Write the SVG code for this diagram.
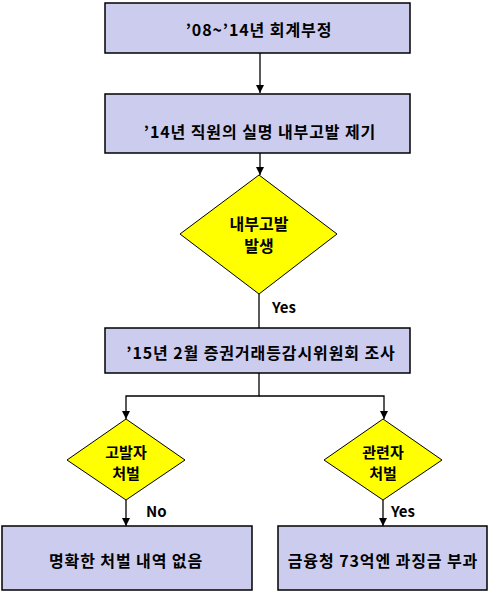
<svg xmlns="http://www.w3.org/2000/svg" width="491" height="591" viewBox="0 0 491 591">
<defs>
<style>
.box{fill:#CCCCEE;stroke:#000;stroke-width:1.5}
.dia{fill:#FFFF00;stroke:#000;stroke-width:1}
.t{font-family:"Noto Sans CJK KR","Malgun Gothic",sans-serif;font-weight:bold;font-size:16px;letter-spacing:0.9px;fill:#000;text-anchor:middle;dominant-baseline:central}
.d{font-family:"Noto Sans CJK KR","Malgun Gothic",sans-serif;font-weight:bold;font-size:16px;fill:#000;text-anchor:middle;dominant-baseline:central}
.s{font-family:"Noto Sans CJK KR","Malgun Gothic",sans-serif;font-weight:bold;font-size:15px;fill:#000;text-anchor:middle;dominant-baseline:central}
.lbl{font-family:"Noto Sans CJK KR",sans-serif;font-weight:bold;font-size:15px;fill:#000;dominant-baseline:central}
.ln{fill:none;stroke:#000;stroke-width:1.3}
</style>
<marker id="ah" viewBox="0 0 10 10" refX="10" refY="5" markerWidth="8" markerHeight="8" markerUnits="userSpaceOnUse" orient="auto">
<path d="M0,0 L10,5 L0,10 z" fill="#000"/>
</marker>
</defs>
<rect width="491" height="591" fill="#fff"/>
<g id="connectors">
<line class="ln" x1="260" y1="53" x2="260" y2="93" marker-end="url(#ah)"/>
<line class="ln" x1="260" y1="153" x2="260" y2="175" marker-end="url(#ah)"/>
<line class="ln" x1="259" y1="294" x2="259" y2="328"/>
<path class="ln" d="M259,373 V396 H126 V419" marker-end="url(#ah)"/>
<path class="ln" d="M259,396 H384 V419" marker-end="url(#ah)"/>
<line class="ln" x1="126" y1="500" x2="126" y2="526" marker-end="url(#ah)"/>
<line class="ln" x1="383" y1="500" x2="383" y2="526" marker-end="url(#ah)"/>
<text class="lbl" x="272" y="306">Yes</text>
<text class="lbl" x="146" y="510">No</text>
<text class="lbl" x="391" y="510">Yes</text>
</g>
<g id="n1">
<rect class="box" x="105" y="3" width="305" height="50"/>
<text class="t" x="259" y="29">’08~’14년 회계부정</text>
</g>
<g id="n2">
<rect class="box" x="105" y="94" width="305" height="59"/>
<text class="t" x="260" y="131">’14년 직원의 실명 내부고발 제기</text>
</g>
<g id="d1">
<polygon class="dia" points="259,175 337,234 259,294 180,234"/>
<text class="d" x="259" y="223">내부고발</text>
<text class="d" x="259" y="245">발생</text>
</g>
<g id="n3">
<rect class="box" x="105" y="328" width="305" height="45"/>
<text class="t" x="261" y="352">’15년 2월 증권거래등감시위원회 조사</text>
</g>
<g id="d2">
<polygon class="dia" points="126,419 185,460 126,500 67,460"/>
<text class="s" x="126" y="451">고발자</text>
<text class="s" x="126" y="472">처벌</text>
</g>
<g id="d3">
<polygon class="dia" points="383,419 442,460 383,500 324,460"/>
<text class="s" x="383" y="451">관련자</text>
<text class="s" x="383" y="472">처벌</text>
</g>
<g id="n4">
<rect class="box" x="2" y="526" width="250" height="64"/>
<text class="t" x="126" y="560">명확한 처벌 내역 없음</text>
</g>
<g id="n5">
<rect class="box" x="278" y="526" width="209" height="64"/>
<text class="t" x="383" y="560">금융청 73억엔 과징금 부과</text>
</g>
</svg>
